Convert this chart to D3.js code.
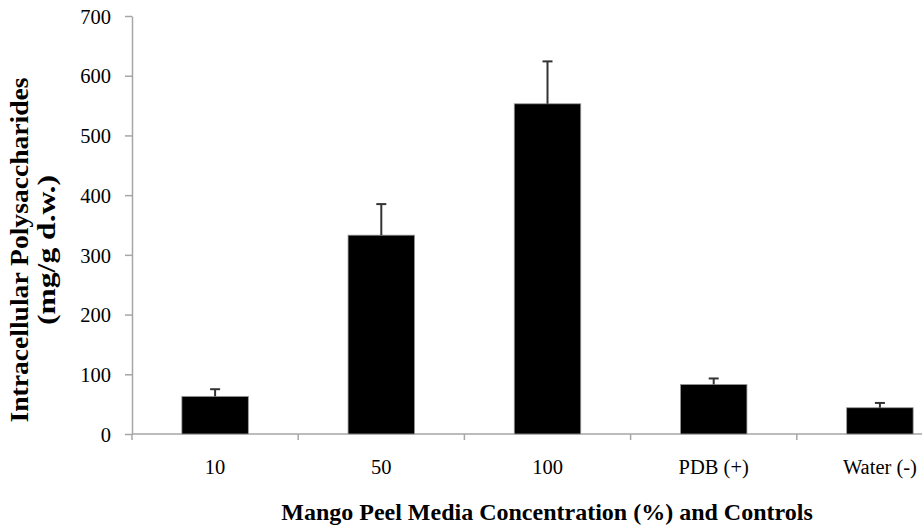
<!DOCTYPE html>
<html>
<head>
<meta charset="utf-8">
<script src="https://cdn.jsdelivr.net/npm/d3@7"></script>
<style>
  html, body { margin: 0; padding: 0; background: #fff; }
  svg { display: block; }
  text { font-family: "Liberation Serif", "Times New Roman", serif; fill: #000; }
</style>
</head>
<body>
<svg id="chart" width="922" height="527"></svg>
<script>
// Intracellular polysaccharide yield per medium
const categories = ["10", "50", "100", "PDB (+)", "Water (-)"];
const values = [63, 333, 553, 83, 44];
const errors = [12, 52, 71, 10, 8];
const yTicks = [0, 100, 200, 300, 400, 500, 600, 700];

const svg = d3.select("#chart");
const plotLeft = 132, plotRight = 963, plotTop = 16, plotBottom = 434;

const x = d3.scaleBand()
  .domain(categories)
  .range([plotLeft, plotRight])
  .paddingInner(0.6)
  .paddingOuter(0.3);

const y = d3.scaleLinear().domain([0, 700]).range([plotBottom, plotTop]);

const axisColor = "#a6a6a6";

// y axis
const yAxis = svg.append("g")
  .attr("transform", `translate(${plotLeft},0)`)
  .call(d3.axisLeft(y).tickValues(yTicks).tickSize(7).tickSizeOuter(0).tickPadding(14));
yAxis.select(".domain").attr("stroke", axisColor).attr("stroke-width", 1.5);
yAxis.selectAll(".tick line").attr("stroke", axisColor).attr("stroke-width", 1.5);
yAxis.selectAll(".tick text")
  .attr("font-size", 20.5)
  .attr("font-family", "Liberation Serif")
  .attr("fill", "#000")
  .attr("dy", "0.35em");

// x axis baseline with ticks on category boundaries
const boundaries = d3.range(categories.length + 1).map(i => plotLeft + i * x.step());
svg.append("line")
  .attr("x1", plotLeft).attr("x2", plotRight)
  .attr("y1", y(0)).attr("y2", y(0))
  .attr("stroke", axisColor).attr("stroke-width", 1.5);
svg.append("g").selectAll("line")
  .data(boundaries)
  .join("line")
  .attr("x1", d => d).attr("x2", d => d)
  .attr("y1", y(0)).attr("y2", y(0) + 6)
  .attr("stroke", axisColor).attr("stroke-width", 1.5);

// category labels
svg.append("g").selectAll("text")
  .data(categories)
  .join("text")
  .attr("x", d => x(d) + x.bandwidth() / 2)
  .attr("y", 474)
  .attr("text-anchor", "middle")
  .attr("font-size", 20.5)
  .text(d => d);

// bars
svg.append("g").selectAll("rect")
  .data(categories)
  .join("rect")
  .attr("x", d => x(d))
  .attr("width", x.bandwidth())
  .attr("y", (d, i) => y(values[i]))
  .attr("height", (d, i) => y(0) - y(values[i]))
  .attr("fill", "#000")
  .attr("stroke", "#9a9a9a")
  .attr("stroke-width", 0.8);

// upper error bars
const err = svg.append("g").attr("stroke", "#333").attr("stroke-width", 2);
categories.forEach((c, i) => {
  const cx = x(c) + x.bandwidth() / 2;
  err.append("line")
    .attr("x1", cx).attr("x2", cx)
    .attr("y1", y(values[i])).attr("y2", y(values[i] + errors[i]));
  err.append("line")
    .attr("x1", cx - 5).attr("x2", cx + 5)
    .attr("y1", y(values[i] + errors[i])).attr("y2", y(values[i] + errors[i]));
});

// axis titles
svg.append("text")
  .attr("x", 547).attr("y", 520)
  .attr("text-anchor", "middle")
  .attr("font-size", 24)
  .attr("font-weight", "bold")
  .text("Mango Peel Media Concentration (%) and Controls");

const yTitle = svg.append("g").attr("transform", "translate(0,250)");
yTitle.append("text")
  .attr("transform", "translate(28,0) rotate(-90)")
  .attr("text-anchor", "middle")
  .attr("font-size", 25)
  .attr("font-weight", "bold")
  .attr("textLength", 345)
  .attr("lengthAdjust", "spacingAndGlyphs")
  .text("Intracellular Polysaccharides");
yTitle.append("text")
  .attr("transform", "translate(55,0) rotate(-90)")
  .attr("text-anchor", "middle")
  .attr("font-size", 25)
  .attr("font-weight", "bold")
  .attr("textLength", 150)
  .attr("lengthAdjust", "spacingAndGlyphs")
  .text("(mg/g d.w.)");
</script>
</body>
</html>
